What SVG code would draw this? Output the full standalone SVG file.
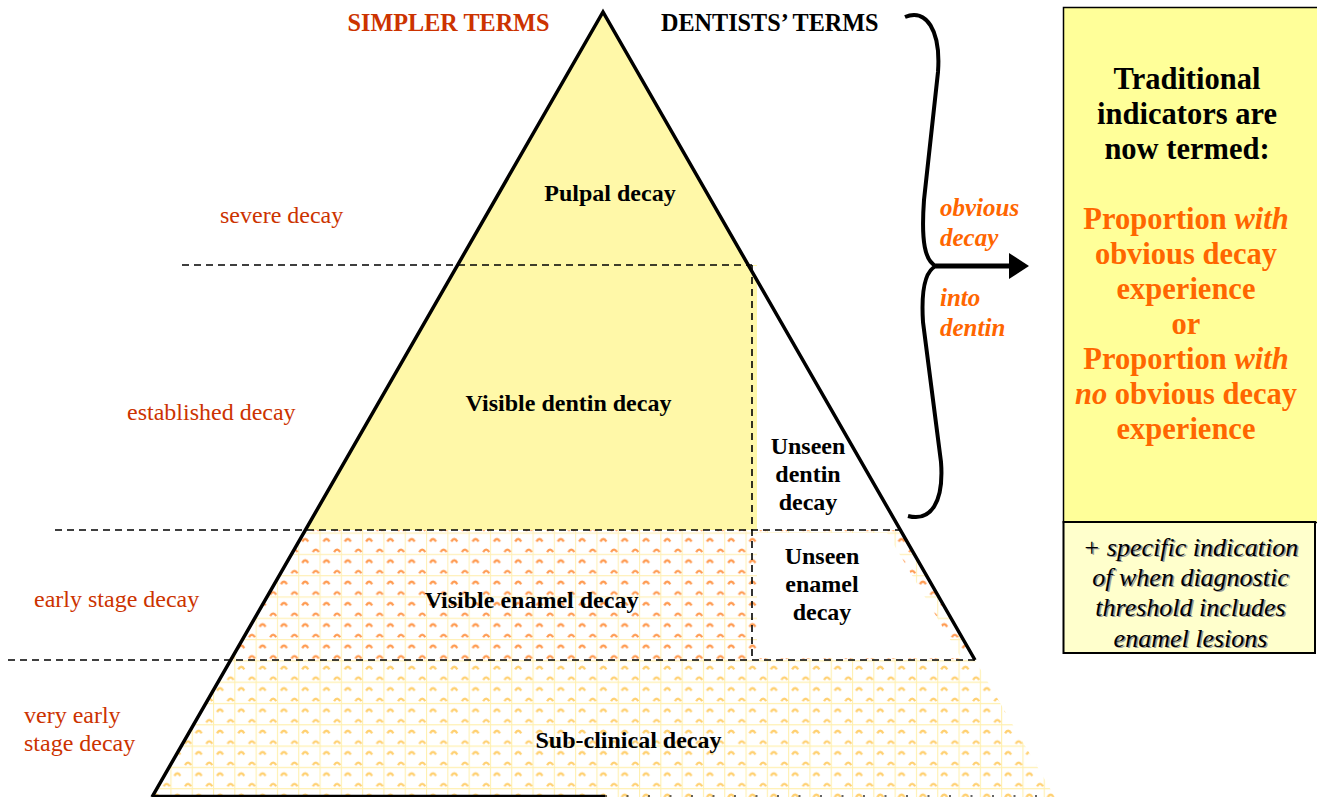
<svg xmlns="http://www.w3.org/2000/svg" width="1317" height="797" viewBox="0 0 1317 797">
<defs>
<style>
.lbl{font-family:"Liberation Serif","Times New Roman",serif;font-size:24px;fill:#CC3300}
.node{font-family:"Liberation Serif","Times New Roman",serif;font-size:24px;font-weight:bold;fill:#000;text-anchor:middle}
.head{font-family:"Liberation Serif","Times New Roman",serif;font-size:24.2px;font-weight:bold}
.ob{font-family:"Liberation Serif","Times New Roman",serif;font-size:25px;font-weight:bold;font-style:italic;fill:#FF6600}
.box1{font-family:"Liberation Serif","Times New Roman",serif;font-size:30.5px;font-weight:bold;text-anchor:middle}
.box2{font-family:"Liberation Serif","Times New Roman",serif;font-size:26px;font-style:italic;text-anchor:middle}
.dash{stroke:#000;stroke-width:1.6;stroke-dasharray:7 5;fill:none}
</style>
<pattern id="pEn" width="21.3" height="21.3" patternUnits="userSpaceOnUse">
<rect width="21.3" height="21.3" fill="#fff"/>
<path d="M0,0.5H21.3M0.5,0V21.3" stroke="#FFF0B8" stroke-width="1.2"/>
<path d="M4,9q3,-5 6,0M14.6,19.6q3,-5 6,0" stroke="#FF9A50" stroke-width="2.3" fill="none"/>
</pattern>
<pattern id="pSub" width="21.3" height="21.3" patternUnits="userSpaceOnUse">
<rect width="21.3" height="21.3" fill="#fff"/>
<path d="M0,0.5H21.3M0.5,0V21.3" stroke="#FFF0B0" stroke-width="1.2"/>
<path d="M4,9q3,-5 6,0M14.6,19.6q3,-5 6,0" stroke="#FFD070" stroke-width="2.3" fill="none"/>
</pattern>
</defs>
<rect width="1317" height="797" fill="#fff"/>

<g id="pyramid">
<polygon id="yellow" points="603,12 748,265 757,265 757,530 305,530" fill="#FFF8A8"/>
<polygon id="enamel" points="305,530 900,530 975,660 231,660" fill="url(#pEn)"/>
<polygon points="757,533 887,533 961,658 757,658" fill="#fff"/>
<polygon id="subclinical" points="231,660 975,660 1055,797 152,797" fill="url(#pSub)"/>
<polygon points="757,266 750,266 900,530 757,530" fill="#fff"/>
<path d="M152,797 L603,12 L975,660" stroke="#000" stroke-width="3.5" fill="none" stroke-linejoin="miter"/>
<line x1="152" y1="796" x2="605" y2="796" stroke="#000" stroke-width="2.5"/>
<line x1="605" y1="796" x2="1055" y2="796" stroke="#333" stroke-width="1.5" stroke-dasharray="2 19.5"/>
</g>

<g id="connectors">
<line class="dash" x1="182" y1="265" x2="752" y2="265"/>
<line class="dash" x1="752" y1="265" x2="752" y2="660"/>
<line class="dash" x1="55" y1="530" x2="905" y2="530"/>
<line class="dash" x1="8" y1="660" x2="975" y2="660"/>
<path id="brace" d="M905,17 C926,8 941,30 938,72 L924,200 C921,242 925,261 936,266 C925,271 921,290 923,322 L941,462 C944,502 931,522 908,516" stroke="#000" stroke-width="4" fill="none"/>
<line x1="936" y1="266" x2="1012" y2="266" stroke="#000" stroke-width="5"/>
<polygon points="1009,253 1029,266 1009,279" fill="#000"/>
</g>

<g id="headers">
<text class="head" x="448.5" y="31" text-anchor="middle" fill="#CC3300">SIMPLER TERMS</text>
<text class="head" x="661" y="31" fill="#000">DENTISTS’ TERMS</text>
</g>

<g id="simpler-labels">
<text class="lbl" x="220" y="223">severe decay</text>
<text class="lbl" x="127" y="420">established decay</text>
<text class="lbl" x="34" y="607">early stage decay</text>
<text class="lbl" x="24" y="723">very early</text>
<text class="lbl" x="24" y="751">stage decay</text>
</g>

<g id="n-pulpal"><text class="node" x="610" y="201">Pulpal decay</text></g>
<g id="n-visible-dentin"><text class="node" x="568.5" y="411">Visible dentin decay</text></g>
<g id="n-unseen-dentin"><text class="node" x="808" y="454">Unseen</text><text class="node" x="808" y="482">dentin</text><text class="node" x="808" y="510">decay</text></g>
<g id="n-unseen-enamel"><text class="node" x="822" y="564">Unseen</text><text class="node" x="822" y="592">enamel</text><text class="node" x="822" y="620">decay</text></g>
<g id="n-visible-enamel"><text class="node" x="531.5" y="608">Visible enamel decay</text></g>
<g id="n-subclinical"><text class="node" x="628.5" y="748">Sub-clinical decay</text></g>

<g id="obvious">
<text class="ob" x="940" y="216">obvious</text>
<text class="ob" x="940" y="246">decay</text>
<text class="ob" x="940" y="306">into</text>
<text class="ob" x="940" y="336">dentin</text>
</g>

<g id="box-indicators">
<rect x="1063.5" y="7.5" width="270" height="515" fill="#FFFF99" stroke="#000" stroke-width="1.5"/>
<text class="box1" x="1187" y="89" fill="#000">Traditional</text>
<text class="box1" x="1187" y="124" fill="#000">indicators are</text>
<text class="box1" x="1187" y="159" fill="#000">now termed:</text>
<text class="box1" x="1186" y="229" fill="#FF6600">Proportion <tspan font-style="italic">with</tspan></text>
<text class="box1" x="1186" y="264" fill="#FF6600">obvious decay</text>
<text class="box1" x="1186" y="299" fill="#FF6600">experience</text>
<text class="box1" x="1186" y="334" fill="#FF6600">or</text>
<text class="box1" x="1186" y="369" fill="#FF6600">Proportion <tspan font-style="italic">with</tspan></text>
<text class="box1" x="1186" y="404" fill="#FF6600"><tspan font-style="italic">no</tspan> obvious decay</text>
<text class="box1" x="1186" y="439" fill="#FF6600">experience</text>
</g>

<g id="box-threshold">
<rect x="1063.5" y="522" width="251.5" height="131" fill="#FFFFCC" stroke="#000" stroke-width="2"/>
<g fill="#999">
<text class="box2" x="1192" y="557">+ specific indication</text>
<text class="box2" x="1192" y="587">of when diagnostic</text>
<text class="box2" x="1192" y="617">threshold includes</text>
<text class="box2" x="1192" y="648">enamel lesions</text>
</g>
<g fill="#000">
<text class="box2" x="1190.5" y="555.5">+ specific indication</text>
<text class="box2" x="1190.5" y="585.5">of when diagnostic</text>
<text class="box2" x="1190.5" y="615.5">threshold includes</text>
<text class="box2" x="1190.5" y="646.5">enamel lesions</text>
</g>
</g>
</svg>
